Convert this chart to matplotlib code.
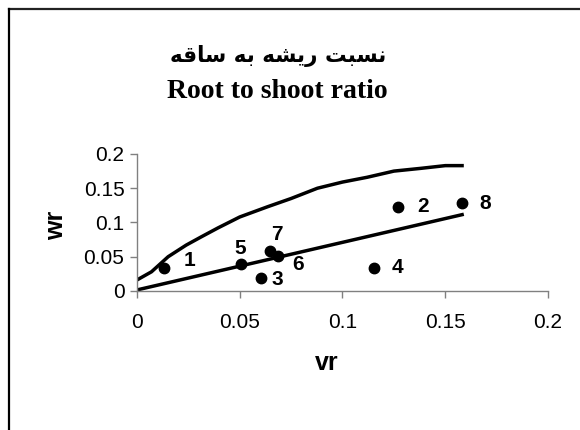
import matplotlib
matplotlib.use("Agg")
import matplotlib.pyplot as plt
from matplotlib.lines import Line2D

# ---- data ----
point_labels = ["1", "2", "3", "4", "5", "6", "7", "8"]
vr = [0.0132, 0.1271, 0.0604, 0.1153, 0.0504, 0.0688, 0.0649, 0.158]
wr = [0.034, 0.123, 0.019, 0.034, 0.040, 0.051, 0.058, 0.128]

upper_x = [0.0, 0.0071, 0.0152, 0.024, 0.0313, 0.0394, 0.05, 0.0636, 0.075,
           0.0878, 0.1, 0.112, 0.125, 0.138, 0.15, 0.159]
upper_y = [0.016, 0.028, 0.050, 0.067, 0.079, 0.092, 0.108, 0.123, 0.135,
           0.150, 0.159, 0.166, 0.175, 0.179, 0.183, 0.183]

lower_x = [0.0, 0.159]
lower_y = [0.0015, 0.112]

x_ticks = [0, 0.05, 0.1, 0.15, 0.2]
x_tick_labels = ["0", "0.05", "0.1", "0.15", "0.2"]
y_ticks = [0, 0.05, 0.1, 0.15, 0.2]
y_tick_labels = ["0", "0.05", "0.1", "0.15", "0.2"]

title_fa = "نسبت ریشه به ساقه"
title_en = "Root to shoot ratio"
x_label = "vr"
y_label = "wr"

# ---- simple Arabic-script shaping (matplotlib has no complex text layout) ----
FORMS = {  # isolated, final, initial, medial
    "ن": ("\uFEE5", "\uFEE6", "\uFEE7", "\uFEE8"),
    "س": ("\uFEB1", "\uFEB2", "\uFEB3", "\uFEB4"),
    "ب": ("\uFE8F", "\uFE90", "\uFE91", "\uFE92"),
    "ت": ("\uFE95", "\uFE96", "\uFE97", "\uFE98"),
    "ر": ("\uFEAD", "\uFEAE", None, None),
    "ی": ("\uFBFC", "\uFBFD", "\uFBFE", "\uFBFF"),
    "ش": ("\uFEB5", "\uFEB6", "\uFEB7", "\uFEB8"),
    "ه": ("\uFEE9", "\uFEEA", "\uFEEB", "\uFEEC"),
    "ا": ("\uFE8D", "\uFE8E", None, None),
    "ق": ("\uFED5", "\uFED6", "\uFED7", "\uFED8"),
}


def joins_next(c):
    return c in FORMS and FORMS[c][2] is not None


def shape(text):
    out = []
    for i, c in enumerate(text):
        if c not in FORMS:
            out.append(c)
            continue
        prev = text[i - 1] if i > 0 else " "
        nxt = text[i + 1] if i + 1 < len(text) else " "
        jp = joins_next(prev)
        jn = nxt in FORMS and joins_next(c)
        iso, fin, ini, med = FORMS[c]
        if jp and jn:
            out.append(med)
        elif jp:
            out.append(fin)
        elif jn:
            out.append(ini)
        else:
            out.append(iso)
    return "".join(reversed(out))


# ---- figure ----
fig = plt.figure(figsize=(5.8, 4.3), dpi=100)
ax = fig.add_axes([0.236, 0.3233, 0.709, 0.3186])

ax.plot(upper_x, upper_y, color="black", lw=2.5, solid_capstyle="butt")
ax.plot(lower_x, lower_y, color="black", lw=2.5, solid_capstyle="butt")
ax.plot(vr, wr, "o", color="black", markersize=7.5, zorder=5)

offsets = [(18, 5), (18, 0), (12, -1), (17, 0), (0, 11), (14, -6), (5, 12), (17, 0)]
for lab, x, y, off in zip(point_labels, vr, wr, offsets):
    ax.annotate(lab, (x, y), xytext=off, textcoords="offset points",
                ha="center", va="center", fontsize=15, fontweight="bold",
                family="Liberation Sans")

ax.set_xlim(0, 0.2)
ax.set_ylim(0, 0.2)
ax.set_xticks(x_ticks)
ax.set_xticklabels(x_tick_labels)
ax.set_yticks(y_ticks)
ax.set_yticklabels(y_tick_labels)
for s in ("top", "right"):
    ax.spines[s].set_visible(False)
for s in ("left", "bottom"):
    ax.spines[s].set_color("#808080")
    ax.spines[s].set_linewidth(1.0)
ax.tick_params(axis="both", direction="out", color="#808080", length=5,
               width=1.0, labelsize=15)
ax.tick_params(axis="x", pad=11)
ax.tick_params(axis="y", pad=4)
for t in ax.get_xticklabels() + ax.get_yticklabels():
    t.set_family("Liberation Sans")

ax.set_xlabel(x_label, fontsize=18, fontweight="bold", family="Liberation Sans",
              va="center")
ax.xaxis.set_label_coords(0.462, -0.526)
ax.set_ylabel(y_label, fontsize=18, fontweight="bold", family="Liberation Sans",
              va="center")
ax.yaxis.set_label_coords(-0.197, 0.482)

fig.text(0.48, 1 - 56 / 430, shape(title_fa), ha="center", va="center",
         fontsize=15.5, fontweight="bold", family="DejaVu Sans")
fig.text(0.478, 1 - 92 / 430, title_en, ha="center", va="center",
         fontsize=20, fontweight="bold", family="Liberation Serif")

# outer frame (top and left edges)
fig.add_artist(Line2D([9 / 580, 1.0], [1 - 9 / 430, 1 - 9 / 430],
                      transform=fig.transFigure, color="#222222", lw=1.6))
fig.add_artist(Line2D([9 / 580, 9 / 580], [1 - 9 / 430, 0.0],
                      transform=fig.transFigure, color="black", lw=1.6))

fig.savefig("out.png", dpi=100)
